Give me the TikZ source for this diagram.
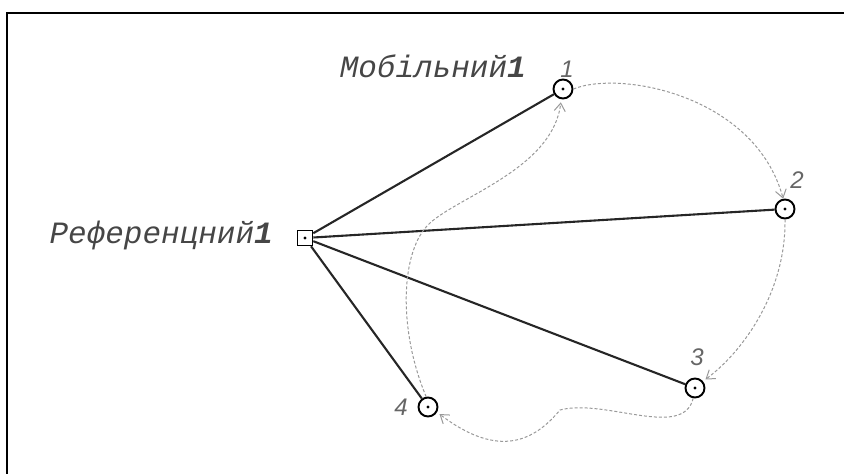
\documentclass[tikz,border=0pt]{standalone}
\usepackage{fontspec}
\usepackage{xcolor}
\usepackage{tikz}
\usetikzlibrary{positioning,arrows.meta}
\newfontfamily\labelfont{Liberation Mono}
\newfontfamily\numfont{Liberation Sans}
\definecolor{txtgray}{HTML}{464646}
\definecolor{numgray}{HTML}{666666}
\definecolor{trackgray}{HTML}{999999}

\tikzset{
  refpt/.style={draw, rectangle, line width=1.6pt, minimum size=15pt, inner sep=0pt,
    path picture={\fill (path picture bounding box.center) circle (1.7pt);}},
  mobpt/.style={draw, circle, line width=1.9pt, minimum size=19pt, inner sep=0pt,
    path picture={\fill (path picture bounding box.center) circle (1.7pt);}},
  link/.style={line width=2.1pt, black!85},
  track/.style={trackgray, line width=1pt, dash pattern=on 3pt off 2pt,
    -{Straight Barb[length=8pt, width=11pt, line width=1pt]}},
  lbl/.style={font=\labelfont\itshape\fontsize{31}{31}\selectfont, text=txtgray, inner sep=0pt},
  num/.style={font=\numfont\itshape\fontsize{24}{24}\selectfont, text=numgray, inner sep=0pt},
}

\begin{document}
\begin{tikzpicture}[x=1pt, y=-1pt]
    \useasboundingbox (0,0) rectangle (844,474);
    % Frame
    \draw[line width=2.4pt] (7,480) -- (7,13) -- (850,13);

    % Reference point and mobile positions
    \node[refpt] (ref) at (305,238) {};
    \node[mobpt] (p1) at (563,89) {};
    \node[mobpt] (p2) at (785,209) {};
    \node[mobpt] (p3) at (695,388) {};
    \node[mobpt] (p4) at (428,407) {};

    % Labels
    \node[lbl, anchor=base east] (reftxt) at (273,243) {Референцний{\bfseries 1}};
    \node[lbl, anchor=base east] (mobtxt) at (526,77) {Мобільний{\bfseries 1}};
    \node[num] (n1) at (567,69) {1};
    \node[num] (n2) at (797,180) {2};
    \node[num] (n3) at (697,357) {3};
    \node[num] (n4) at (401,407) {4};

    % Baselines
    \draw[link] (ref) -- (p1);
    \draw[link] (ref) -- (p2);
    \draw[link] (ref) -- (p3);
    \draw[link] (ref) -- (p4);

    % Movement of the mobile station
    \draw[track] (p1.east) .. controls (620,70) and (755,95) .. (p2.100);
    \draw[track, shorten >=3pt] (p2.south) .. controls (786,290) and (745,350) .. (p3.40);
    \draw[track, shorten >=3pt] (p3.-100) .. controls (683,440) and (605,398) .. (560,410)
        .. controls (535,440) and (500,460) .. (p4.-30);
    \draw[track, shorten >=3pt] (p4.100) .. controls (398,330) and (400,250) .. (430,223)
        .. controls (460,196) and (553,168) .. (p1.-100);
\end{tikzpicture}
\end{document}
